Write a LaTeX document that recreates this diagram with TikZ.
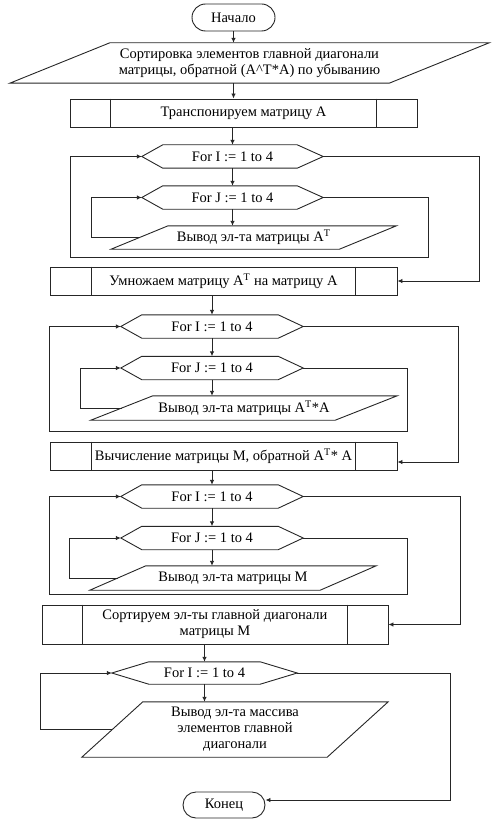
\documentclass[tikz,border=0pt]{standalone}
\usepackage{fontspec}
\setmainfont{Liberation Serif}
\usetikzlibrary{shapes.misc,arrows.meta,calc}
\newcommand\prlg[2]{\draw[ln] ([xshift=#2]#1.north west) -- ([xshift=#2]#1.north east) -- ([xshift=-#2]#1.south east) -- ([xshift=-#2]#1.south west) -- cycle;}
\newcommand\hexa[3]{\draw[ln] (#1.west) -- ([xshift=#2]#1.north west) -- ([xshift=-#3]#1.north east) -- (#1.east) -- ([xshift=-#3]#1.south east) -- ([xshift=#2]#1.south west) -- cycle;}
\newcommand\pbox[2]{\draw[ln] ([xshift=#2]#1.north west) -- ([xshift=#2]#1.south west); \draw[ln] ([xshift=-#2]#1.north east) -- ([xshift=-#2]#1.south east);}
\begin{document}
\begin{tikzpicture}[x=1pt,y=-1pt,
  every node/.style={font=\fontsize{14.5}{16}\selectfont},
  ln/.style={draw=black!85,line width=0.9pt},
  arr/.style={ln,-{Latex[length=5pt,width=4.5pt]}},
  term/.style={ln,rounded rectangle,inner sep=0pt},
  blk/.style={inner sep=0pt,align=center},
  proc/.style={ln,rectangle,inner sep=0pt,align=center}]
\useasboundingbox (0,0) rectangle (495,829);

\node[term,minimum width=83pt,minimum height=27pt] (start) at (233.5,17.5) {Начало};
\node[blk,minimum width=379pt,minimum height=40pt] (sort) at (249.5,63) {Сортировка элементов главной диагонали\\матрицы, обратной (A\textasciicircum T*A) по убыванию};
\prlg{sort}{50pt}
\node[proc,minimum width=347pt,minimum height=28pt] (tr) at (243.5,113) {Транспонируем матрицу А};
\pbox{tr}{41pt}

\node[blk,minimum width=181pt,minimum height=23pt] (fi1) at (232.5,156.5) {For I := 1 to 4};
\hexa{fi1}{21pt}{26pt}
\node[blk,minimum width=181pt,minimum height=23pt] (fj1) at (232.5,197.5) {For J := 1 to 4};
\hexa{fj1}{21pt}{26pt}
\node[blk,minimum width=228pt,minimum height=23pt] (out1) at (253.75,237.5) {Вывод эл-та матрицы A\textsuperscript{T}};
\prlg{out1}{28.5pt}
\node[proc,minimum width=347pt,minimum height=28pt] (mul) at (223.5,281) {Умножаем матрицу A\textsuperscript{T} на матрицу А};
\pbox{mul}{42pt}

\node[blk,minimum width=182pt,minimum height=23pt] (fi2) at (212,326.5) {For I := 1 to 4};
\hexa{fi2}{21pt}{25pt}
\node[blk,minimum width=182pt,minimum height=23pt] (fj2) at (212,368) {For J := 1 to 4};
\hexa{fj2}{21pt}{25pt}
\node[blk,minimum width=244pt,minimum height=24pt] (out2) at (244,408) {Вывод эл-та матрицы A\textsuperscript{T}*A};
\prlg{out2}{31pt}
\node[proc,minimum width=347pt,minimum height=28pt] (calc) at (223.5,456) {Вычисление матрицы М, обратной A\textsuperscript{T}* A};
\pbox{calc}{42pt}

\node[blk,minimum width=182pt,minimum height=23pt] (fi3) at (212,496.5) {For I := 1 to 4};
\hexa{fi3}{21pt}{25pt}
\node[blk,minimum width=182pt,minimum height=23pt] (fj3) at (212,538) {For J := 1 to 4};
\hexa{fj3}{21pt}{25pt}
\node[blk,minimum width=230pt,minimum height=24pt] (out3) at (233,578) {Вывод эл-та матрицы М};
\prlg{out3}{28pt}
\node[proc,minimum width=346pt,minimum height=39pt] (sortM) at (215,624.5) {Сортируем эл-ты главной диагонали\\матрицы М};
\pbox{sortM}{41pt}

\node[blk,minimum width=185pt,minimum height=22pt] (fi4) at (204.5,673) {For I := 1 to 4};
\hexa{fi4}{37pt}{37pt}
\node[blk,minimum width=245pt,minimum height=55pt] (out4) at (235,729.5) {Вывод эл-та массива\\элементов главной\\диагонали};
\prlg{out4}{30.5pt}
\node[term,minimum width=82pt,minimum height=26pt] (end) at (224,805) {Конец};

% bend points
\coordinate (b1r) at (428,257); \coordinate (b1l) at (70,257);
\coordinate (b2r) at (407,431); \coordinate (b2l) at (49,431);
\coordinate (b3r) at (407,594); \coordinate (b3l) at (49,594);

% main flow
\draw[arr] (start.south) -- (start.south |- sort.north);
\draw[arr] (start.south |- sort.south) -- (start.south |- tr.north);
\draw[arr] (fi1.north |- tr.south) -- (fi1.north);
\draw[arr] (fi1.south) -- (fj1.north);
\draw[arr] (fj1.south) -- (fj1.south |- out1.north);
\draw[arr] (fi2.north |- mul.south) -- (fi2.north);
\draw[arr] (fi2.south) -- (fj2.north);
\draw[arr] (fj2.south) -- (fj2.south |- out2.north);
\draw[arr] (fi3.north |- calc.south) -- (fi3.north);
\draw[arr] (fi3.south) -- (fj3.north);
\draw[arr] (fj3.south) -- (fj3.south |- out3.north);
\draw[arr] (fi4.north |- sortM.south) -- (fi4.north);
\draw[arr] (fi4.south) -- (fi4.south |- out4.north);

% loops
\draw[arr] (out1.west) -- ++(-48,0) |- (fj1.west);
\draw[arr] (fj1.east) -| (b1r) -- (b1l) |- (fi1.west);
\draw[arr] (fi1.east) -| ([xshift=82pt]mul.east) -- (mul.east);

\draw[arr] (out2.west) -- ++(-41,0) |- (fj2.west);
\draw[arr] (fj2.east) -| (b2r) -- (b2l) |- (fi2.west);
\draw[arr] (fi2.east) -| ([xshift=61pt,yshift=-6pt]calc.east) -- ([yshift=-6pt]calc.east);

\draw[arr] (out3.west) -- ++(-48,0) |- (fj3.west);
\draw[arr] (fj3.east) -| (b3r) -- (b3l) |- (fi3.west);
\draw[arr] (fi3.east) -| ([xshift=72pt]sortM.east) -- (sortM.east);

\draw[arr] (out4.west) -- ++(-71.5,0) |- (fi4.west);
\draw[arr] (fi4.east) -| ([xshift=185pt,yshift=5pt]end.east) -- ([yshift=5pt]end.east);
\end{tikzpicture}
\end{document}
